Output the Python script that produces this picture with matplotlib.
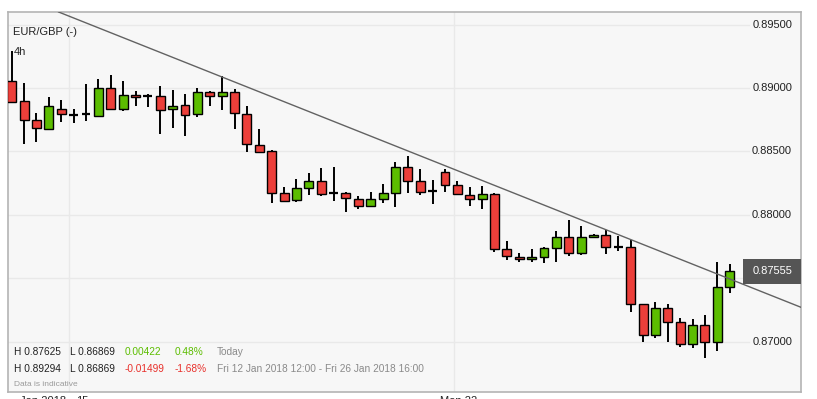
import numpy as np
import matplotlib.pyplot as plt
import matplotlib.transforms as mtransforms
from matplotlib.patches import Rectangle

plt.rcParams['font.family'] = ['Liberation Sans', 'DejaVu Sans']

# EUR/GBP 4h candles, Fri 12 Jan 2018 12:00 - Fri 26 Jan 2018 16:00
opens = [
    0.89054, 0.88898, 0.88748, 0.88680, 0.88835, 0.88790, 0.88793, 0.88782, 0.88998, 0.88838,
    0.88943, 0.88938, 0.88935, 0.88833, 0.88864, 0.88793, 0.88972, 0.88935, 0.88969, 0.88793,
    0.88549, 0.88504, 0.88170, 0.88115, 0.88210, 0.88265, 0.88173, 0.88173, 0.88123, 0.88068,
    0.88123, 0.88170, 0.88375, 0.88270, 0.88186, 0.88336, 0.88233, 0.88155, 0.88123, 0.88165,
    0.87729, 0.87670, 0.87650, 0.87666, 0.87737, 0.87828, 0.87697, 0.87823, 0.87844, 0.87747,
    0.87744, 0.87295, 0.87053, 0.87263, 0.87153, 0.86979, 0.87133, 0.86995, 0.87429]
highs = [
    0.89294, 0.89043, 0.88806, 0.88932, 0.88906, 0.88835, 0.89035, 0.89069, 0.89106, 0.89056,
    0.88973, 0.88956, 0.89017, 0.88985, 0.88956, 0.88998, 0.88973, 0.89098, 0.88991, 0.88859,
    0.88677, 0.88509, 0.88220, 0.88283, 0.88333, 0.88370, 0.88378, 0.88183, 0.88149, 0.88181,
    0.88244, 0.88417, 0.88467, 0.88362, 0.88275, 0.88362, 0.88267, 0.88220, 0.88226, 0.88175,
    0.87794, 0.87697, 0.87729, 0.87744, 0.87873, 0.87957, 0.87912, 0.87852, 0.87881, 0.87834,
    0.87802, 0.87295, 0.87311, 0.87297, 0.87185, 0.87177, 0.87211, 0.87625, 0.87610]
lows = [
    0.88880, 0.88557, 0.88577, 0.88675, 0.88735, 0.88727, 0.88741, 0.88774, 0.88830, 0.88822,
    0.88861, 0.88853, 0.88640, 0.88688, 0.88625, 0.88774, 0.88859, 0.88827, 0.88677, 0.88498,
    0.88490, 0.88096, 0.88099, 0.88104, 0.88159, 0.88151, 0.88112, 0.88021, 0.88044, 0.88062,
    0.88096, 0.88065, 0.88175, 0.88159, 0.88084, 0.88183, 0.88155, 0.88068, 0.88049, 0.87710,
    0.87644, 0.87626, 0.87629, 0.87618, 0.87626, 0.87673, 0.87681, 0.87815, 0.87689, 0.87715,
    0.87237, 0.86998, 0.87027, 0.87000, 0.86956, 0.86948, 0.86869, 0.86929, 0.87382]
closes = [
    0.88893, 0.88746, 0.88683, 0.88859, 0.88796, 0.88790, 0.88793, 0.88998, 0.88833, 0.88943,
    0.88927, 0.88938, 0.88825, 0.88861, 0.88785, 0.88967, 0.88935, 0.88972, 0.88801, 0.88557,
    0.88494, 0.88170, 0.88107, 0.88210, 0.88265, 0.88162, 0.88173, 0.88131, 0.88068, 0.88123,
    0.88170, 0.88375, 0.88270, 0.88183, 0.88186, 0.88233, 0.88162, 0.88123, 0.88162, 0.87729,
    0.87673, 0.87650, 0.87666, 0.87737, 0.87828, 0.87697, 0.87823, 0.87844, 0.87744, 0.87747,
    0.87295, 0.87053, 0.87263, 0.87153, 0.86979, 0.87133, 0.87000, 0.87429, 0.87555]

price_ticks = [0.870, 0.875, 0.880, 0.885, 0.890, 0.895]
day_starts = [4.63, 35.7]          # candle index where Mon 15 / Mon 22 begin
date_labels = ['Jan 2018', '15', 'Mon 22']

# trendline anchor points (candle index, price)
trend_a = (3.84, 0.89598)
trend_b = (63.76, 0.87271)

info_rows = [
    ['H 0.87625', 'L 0.86869', '0.00422', '0.48%', 'Today'],
    ['H 0.89294', 'L 0.86869', '-0.01499', '-1.68%', 'Fri 12 Jan 2018 12:00 - Fri 26 Jan 2018 16:00'],
]

GREEN = '#5cbd00'
RED = '#ec3f3a'

o = np.array(opens); h = np.array(highs); l = np.array(lows); c = np.array(closes)
x = np.arange(len(o))

W, H = 817, 399
fig = plt.figure(figsize=(W / 100, H / 100), dpi=100)
fig.patch.set_facecolor('white')
ax = fig.add_axes([8 / W, 7 / H, 793 / W, 380 / H])
ax.set_facecolor('#f7f7f7')
ax.set_xlim(-0.30, 63.76)
ax.set_ylim(0.86603, 0.89600)
ax.set_xticks([]); ax.set_yticks([])
for s in ax.spines.values():
    s.set_color('#b4b4b4')
    s.set_linewidth(1.2)

# grid
for p in price_ticks:
    ax.axhline(p, xmin=0, xmax=0.935, color='#e9e9e9', lw=1, zorder=0)
for d in day_starts:
    ax.axvline(d, color='#e9e9e9', lw=1, zorder=0)

# candles
ax.vlines(x, l, h, color='black', lw=1.4, zorder=2)
up = c > o
down = c < o
doji = c == o
bw = 0.72
ax.bar(x[up], (c - o)[up], bottom=o[up], width=bw, color=GREEN,
       edgecolor='black', linewidth=1.0, zorder=3)
ax.bar(x[down], (o - c)[down], bottom=c[down], width=bw, color=RED,
       edgecolor='black', linewidth=1.0, zorder=3)
ax.hlines(c[doji], x[doji] - bw / 2, x[doji] + bw / 2, color='black', lw=1.6, zorder=3)

# trend line
ax.axline(trend_a, trend_b, color='#626262', lw=1.0, zorder=4)

# price scale labels (the one hidden by the last-price box is skipped)
last = closes[-1]
trans = mtransforms.blended_transform_factory(ax.transAxes, ax.transData)
for p in price_ticks:
    if abs(p - last) < 0.0012:
        continue
    ax.text(0.9887, p, f'{p:.5f}', transform=trans, ha='right', va='center',
            fontsize=8, color='#222222')
ax.add_patch(Rectangle((0.9269, last - 0.00097), 0.0731, 0.00194, transform=trans,
                       facecolor='#555555', edgecolor='none', zorder=5, clip_on=False))
ax.text(0.9887, last, f'{last:.5f}', transform=trans, ha='right', va='center',
        fontsize=8, color='white', zorder=6)

# header
fig.text(13 / W, 1 - 32 / H, 'EUR/GBP (-)', va='center', fontsize=8, color='#222222')
fig.text(14 / W, 1 - 52 / H, '4h', va='center', fontsize=8, color='#222222')

# info panel
col_x = [14, 70, 125, 175, 217]
row_y = [352, 369]
for r, row in enumerate(info_rows):
    for k, txt in enumerate(row):
        if k < 2:
            col = '#222222'
        elif k < 4:
            col = GREEN if not txt.startswith('-') else '#e8302b'
        else:
            col = '#8a8a8a'
        fig.text(col_x[k] / W, 1 - row_y[r] / H, txt, va='center', fontsize=7.3, color=col)
fig.text(14 / W, 1 - 385 / H, 'Data is indicative', va='center', fontsize=6.0, color='#9a9a9a')

# date axis (cut off by figure edge)
for px, lab in zip([20, 76, 440], date_labels):
    fig.text(px / W, 3 / H, lab, va='top', fontsize=8, color='#222222')

fig.savefig('out.png', dpi=100)
